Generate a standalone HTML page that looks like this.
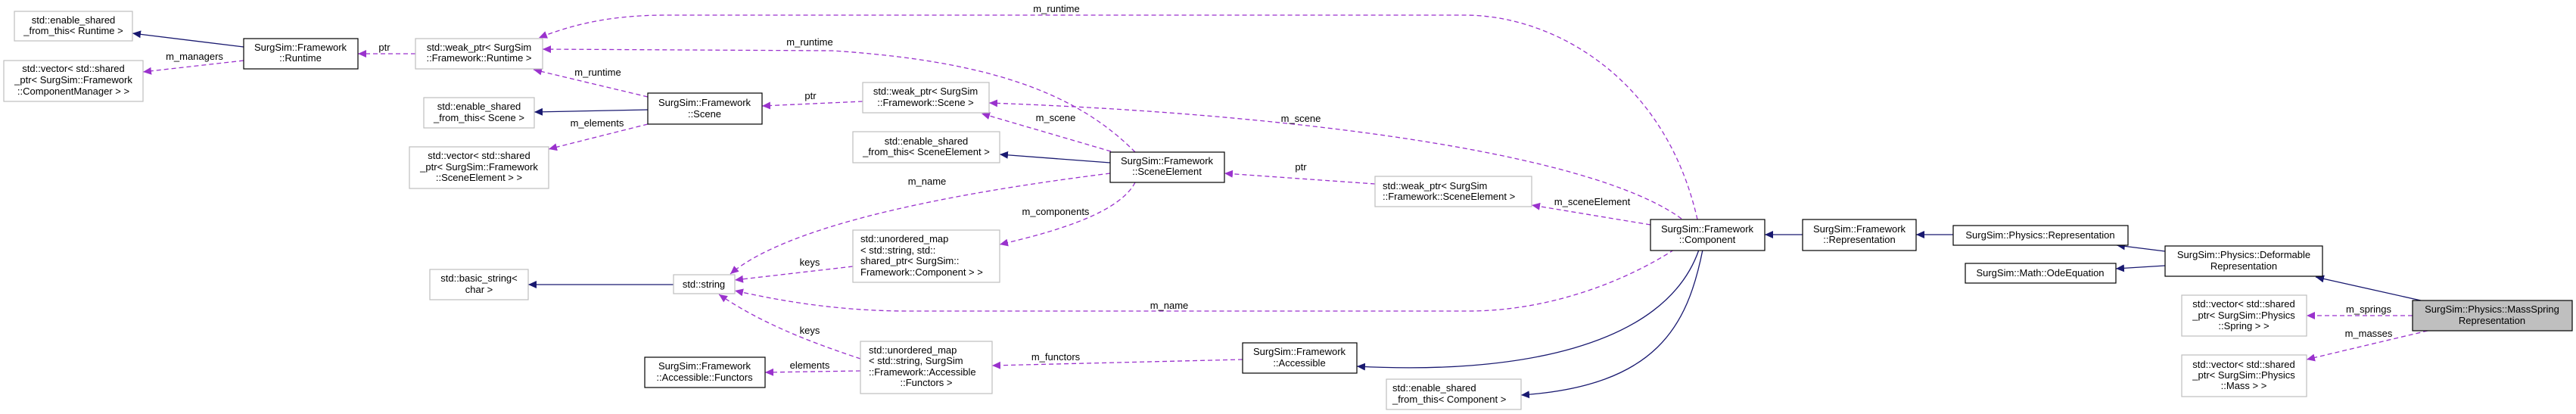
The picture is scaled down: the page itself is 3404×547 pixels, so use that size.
<!DOCTYPE html>
<html><head><meta charset="utf-8"><style>
html,body{margin:0;padding:0;background:#fff;}
svg{display:block;}
text{font-family:"Liberation Sans",sans-serif;font-size:13px;fill:#000;}
.g{fill:#fff;stroke:#bfbfbf;stroke-width:1.2;}
.b{fill:#fff;stroke:#000;stroke-width:1.2;}
.s{fill:none;stroke:#191970;stroke-width:1.3;}
.d{fill:none;stroke:#9a32cd;stroke-width:1.3;stroke-dasharray:6,4;}
</style></head><body>
<svg width="3404" height="547" viewBox="0 0 3404 547" xmlns="http://www.w3.org/2000/svg">
<defs>
<marker id="an" markerUnits="userSpaceOnUse" markerWidth="12" markerHeight="10" refX="11" refY="5" orient="auto"><path d="M0,0 L11,5 L0,10 z" fill="#191970"/></marker>
<marker id="ap" markerUnits="userSpaceOnUse" markerWidth="12" markerHeight="10" refX="11" refY="5" orient="auto"><path d="M0,0 L11,5 L0,10 z" fill="#9a32cd"/></marker>
</defs>

<!-- edges -->
<path class="s" marker-end="url(#an)" d="M322,62 L175,44"/>
<path class="d" marker-end="url(#ap)" d="M322,80 L189,95"/>
<path class="d" marker-end="url(#ap)" d="M549,71 L473,71"/>
<path class="d" marker-end="url(#ap)" d="M856,128 L705,92"/>
<path class="d" marker-end="url(#ap)" d="M2243,290 C2200,100 2050,20 1936,20 L880,20 C800,20 750,35 712,50"/>
<path class="d" marker-end="url(#ap)" d="M1500,201 C1420,120 1300,80 1100,67 L717,65"/>
<path class="s" marker-end="url(#an)" d="M856,145 L706,148"/>
<path class="d" marker-end="url(#ap)" d="M856,164 L725,197"/>
<path class="d" marker-end="url(#ap)" d="M1140,134 L1007,140"/>
<path class="d" marker-end="url(#ap)" d="M2222,289 C2100,200 1700,150 1307,136"/>
<path class="d" marker-end="url(#ap)" d="M1468,200 L1297,150"/>
<path class="s" marker-end="url(#an)" d="M1467,215 L1321,204"/>
<path class="d" marker-end="url(#ap)" d="M1467,229 C1300,250 1050,290 965,362"/>
<path class="d" marker-end="url(#ap)" d="M1500,241 C1480,280 1400,305 1321,323"/>
<path class="d" marker-end="url(#ap)" d="M1817,243 L1618,229"/>
<path class="d" marker-end="url(#ap)" d="M2181,297 L2024,271"/>
<path class="d" marker-end="url(#ap)" d="M2212,330 C2150,370 2050,411 1940,411 L1200,411 C1100,411 1020,395 971,384"/>
<path class="d" marker-end="url(#ap)" d="M1127,352 L971,370"/>
<path class="d" marker-end="url(#ap)" d="M1137,474 C1080,455 1010,430 950,389"/>
<path class="d" marker-end="url(#ap)" d="M1137,490 L1011,492"/>
<path class="d" marker-end="url(#ap)" d="M1642,475 L1311,483"/>
<path class="s" marker-end="url(#an)" d="M890,376 L698,376"/>
<path class="s" marker-end="url(#an)" d="M2245,330 C2200,460 2000,495 1793,484"/>
<path class="s" marker-end="url(#an)" d="M2250,330 C2230,430 2190,510 2010,522"/>
<path class="s" marker-end="url(#an)" d="M2382,310 L2332,310"/>
<path class="s" marker-end="url(#an)" d="M2581,310 L2532,310"/>
<path class="s" marker-end="url(#an)" d="M2861,332 L2797,324"/>
<path class="s" marker-end="url(#an)" d="M2861,351 L2796,355"/>
<path class="s" marker-end="url(#an)" d="M3199,397 L3060,366"/>
<path class="d" marker-end="url(#ap)" d="M3188,417 L3048,417"/>
<path class="d" marker-end="url(#ap)" d="M3208,437 L3048,475"/>

<!-- edge labels -->
<g text-anchor="middle">
<text x="257" y="79">m_managers</text>
<text x="508" y="67">ptr</text>
<text x="1396" y="16">m_runtime</text>
<text x="1070" y="60">m_runtime</text>
<text x="790" y="100">m_runtime</text>
<text x="1071" y="131">ptr</text>
<text x="1395" y="160">m_scene</text>
<text x="789" y="167">m_elements</text>
<text x="1225" y="244">m_name</text>
<text x="1395" y="284">m_components</text>
<text x="1070" y="351">keys</text>
<text x="1070" y="441">keys</text>
<text x="1070" y="487">elements</text>
<text x="1395" y="476">m_functors</text>
<text x="1719" y="161">m_scene</text>
<text x="1719" y="225">ptr</text>
<text x="2104" y="271">m_sceneElement</text>
<text x="1545" y="408">m_name</text>
<text x="3130" y="413">m_springs</text>
<text x="3130" y="445">m_masses</text>
</g>

<!-- nodes -->
<rect class="g" x="19" y="15" width="156" height="39"/>
<rect class="g" x="5" y="80" width="184" height="54"/>
<rect class="b" x="322" y="51" width="151" height="40"/>
<rect class="g" x="549" y="51" width="168" height="40"/>
<rect class="g" x="560" y="129" width="146" height="40"/>
<rect class="g" x="541" y="194" width="184" height="55"/>
<rect class="g" x="568" y="356" width="130" height="40"/>
<rect class="b" x="856" y="123" width="151" height="41"/>
<rect class="g" x="1140" y="109" width="167" height="40"/>
<rect class="g" x="1127" y="174" width="194" height="41"/>
<rect class="b" x="1467" y="201" width="151" height="40"/>
<rect class="g" x="890" y="363" width="81" height="25"/>
<rect class="g" x="1127" y="304" width="194" height="69"/>
<rect class="b" x="852" y="472" width="159" height="40"/>
<rect class="g" x="1137" y="451" width="174" height="69"/>
<rect class="g" x="1817" y="233" width="207" height="40"/>
<rect class="b" x="2181" y="290" width="151" height="41"/>
<rect class="b" x="2382" y="290" width="150" height="41"/>
<rect class="b" x="1642" y="453" width="151" height="40"/>
<rect class="g" x="1832" y="501" width="178" height="40"/>
<rect class="b" x="2581" y="298" width="231" height="26"/>
<rect class="b" x="2597" y="348" width="199" height="26"/>
<rect class="b" x="2861" y="325" width="208" height="40"/>
<rect x="3188" y="397" width="211" height="40" fill="#bfbfbf" stroke="#000" stroke-width="1.2"/>
<rect class="g" x="2883" y="390" width="165" height="54"/>
<rect class="g" x="2883" y="469" width="165" height="55"/>

<g text-anchor="middle">
<text x="97" y="31">std::enable_shared</text><text x="97" y="45">_from_this&lt; Runtime &gt;</text>
<text x="97" y="95">std::vector&lt; std::shared</text><text x="97" y="110">_ptr&lt; SurgSim::Framework</text><text x="97" y="125">::ComponentManager &gt; &gt;</text>
<text x="397" y="67">SurgSim::Framework</text><text x="397" y="81">::Runtime</text>
<text x="633" y="67">std::weak_ptr&lt; SurgSim</text><text x="633" y="81">::Framework::Runtime &gt;</text>
<text x="633" y="145">std::enable_shared</text><text x="633" y="160">_from_this&lt; Scene &gt;</text>
<text x="633" y="210">std::vector&lt; std::shared</text><text x="633" y="225">_ptr&lt; SurgSim::Framework</text><text x="633" y="239">::SceneElement &gt; &gt;</text>
<text x="633" y="372">std::basic_string&lt;</text><text x="633" y="387">char &gt;</text>
<text x="931" y="140">SurgSim::Framework</text><text x="931" y="155">::Scene</text>
<text x="1223" y="125">std::weak_ptr&lt; SurgSim</text><text x="1223" y="140">::Framework::Scene &gt;</text>
<text x="1224" y="191">std::enable_shared</text><text x="1224" y="205">_from_this&lt; SceneElement &gt;</text>
<text x="1542" y="217">SurgSim::Framework</text><text x="1542" y="231">::SceneElement</text>
<text x="930" y="380">std::string</text>
<text x="931" y="488">SurgSim::Framework</text><text x="931" y="503">::Accessible::Functors</text>
<text x="2256" y="307">SurgSim::Framework</text><text x="2256" y="321">::Component</text>
<text x="2457" y="307">SurgSim::Framework</text><text x="2457" y="321">::Representation</text>
<text x="1717" y="469">SurgSim::Framework</text><text x="1717" y="484">::Accessible</text>
<text x="2696" y="315">SurgSim::Physics::Representation</text>
<text x="2696" y="365">SurgSim::Math::OdeEquation</text>
<text x="2965" y="341">SurgSim::Physics::Deformable</text><text x="2965" y="356">Representation</text>
<text x="3293" y="413">SurgSim::Physics::MassSpring</text><text x="3293" y="428">Representation</text>
<text x="2965" y="406">std::vector&lt; std::shared</text><text x="2965" y="421">_ptr&lt; SurgSim::Physics</text><text x="2965" y="435">::Spring &gt; &gt;</text>
<text x="2965" y="486">std::vector&lt; std::shared</text><text x="2965" y="500">_ptr&lt; SurgSim::Physics</text><text x="2965" y="514">::Mass &gt; &gt;</text>
<text x="1224" y="510">::Functors &gt;</text>
</g>
<text x="1827" y="250">std::weak_ptr&lt; SurgSim</text><text x="1827" y="264">::Framework::SceneElement &gt;</text>
<text x="1840" y="517">std::enable_shared</text><text x="1840" y="532">_from_this&lt; Component &gt;</text>
<text x="1137" y="320">std::unordered_map</text><text x="1137" y="335">&lt; std::string, std::</text><text x="1137" y="349">shared_ptr&lt; SurgSim::</text><text x="1137" y="364">Framework::Component &gt; &gt;</text>
<text x="1148" y="467">std::unordered_map</text><text x="1148" y="481">&lt; std::string, SurgSim</text><text x="1148" y="496">::Framework::Accessible</text>
</svg>
</body></html>
